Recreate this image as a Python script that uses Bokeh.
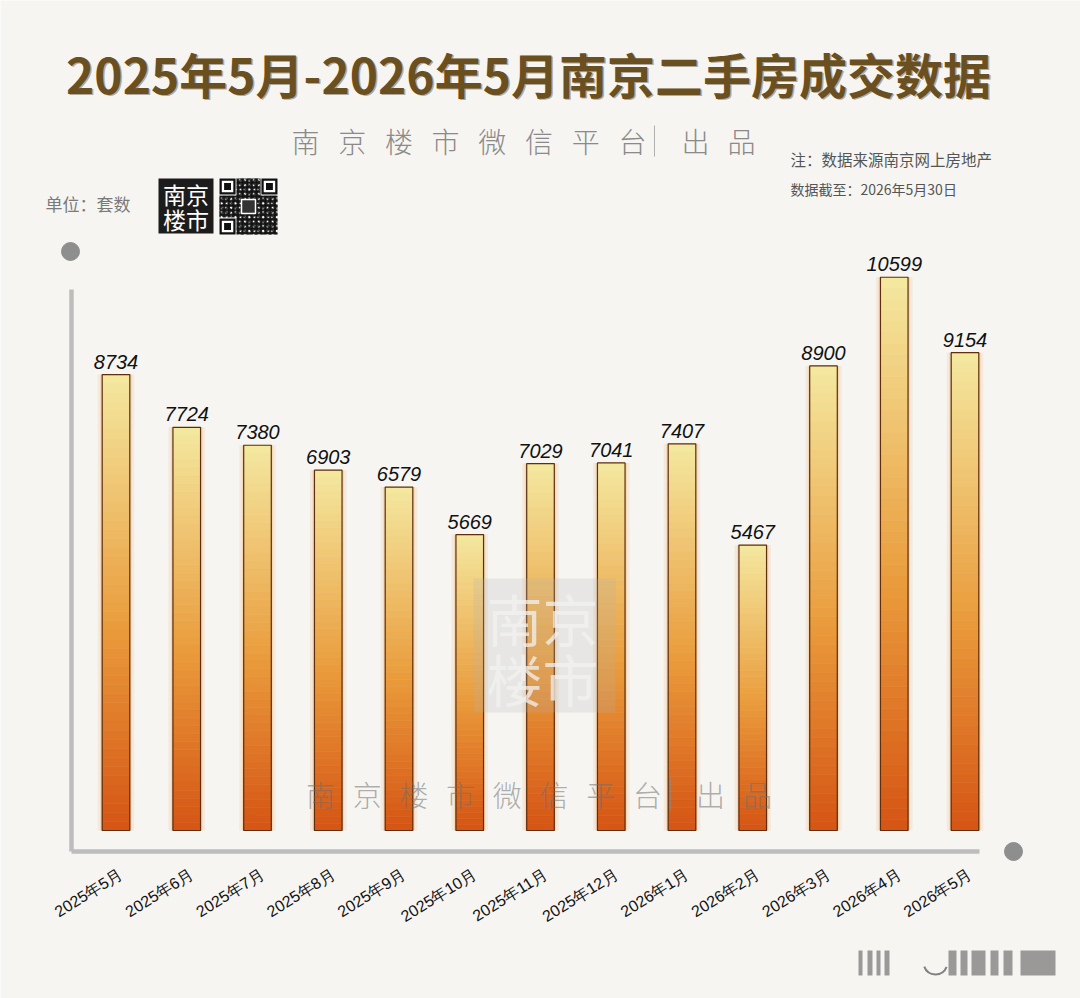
from bokeh.plotting import figure
from bokeh.models import Range1d, FactorRange, Label
from bokeh.core.properties import value
from bokeh.embed import file_html
from bokeh.resources import INLINE

# ---- data ---------------------------------------------------------------
months = ["2025年5月", "2025年6月", "2025年7月", "2025年8月", "2025年9月",
          "2025年10月", "2025年11月", "2025年12月", "2026年1月", "2026年2月",
          "2026年3月", "2026年4月", "2026年5月"]
deals = [8734, 7724, 7380, 6903, 6579, 5669, 7029, 7041, 7407, 5467, 8900, 10599, 9154]

title_text = "2025年5月-2026年5月南京二手房成交数据"
publisher = ["南", "京", "楼", "市", "微", "信", "平", "台"]
publisher_tail = ["出", "品"]
unit_text = "单位：套数"
source_note = "注：数据来源南京网上房地产"
cutoff_note = "数据截至：2026年5月30日"
logo_rows = ["南京", "楼市"]

# ---- canvas geometry ----------------------------------------------------
W, H = 1080, 998
BASE = 830          # canvas row where the bars start
K = 0.0522          # pixels per deal
STEP = 70.75        # pixels per month
PAD = (W / STEP - len(months)) / 2
BAR_W = 0.39

CJK = "Noto Sans CJK SC"
LIGHT = "'Noto Sans CJK SC Light', 'Noto Sans CJK SC'"


def X(px):
    """canvas column -> synthetic x coordinate"""
    return px / STEP - PAD


def Y(py):
    """canvas row -> y data value"""
    return (BASE - py) / K


p = figure(width=W, height=H,
           x_range=FactorRange(*months, range_padding=PAD, range_padding_units="absolute"),
           y_range=Range1d((BASE - H) / K, BASE / K),
           output_backend="svg", toolbar_location=None, min_border=0,
           x_axis_location=None, y_axis_location=None)
p.outline_line_color = None
p.background_fill_color = "#F6F5F2"
p.border_fill_color = "#F6F5F2"
p.grid.grid_line_color = None

# ---- header -------------------------------------------------------------
for dx, dy, col, alpha in [(1.5, 1.5, "#2B200C", 0.35), (0, 0, "#6A4F20", 1.0)]:
    p.add_layout(Label(x=528 + dx, y=H - 72 - dy, x_units="screen", y_units="screen",
                       text=title_text, text_align="center", text_baseline="middle",
                       text_font=CJK, text_font_style="bold", text_font_size="48px",
                       text_color=col, text_alpha=alpha))

sub_x = [X(305 + i * 46.7) for i in range(len(publisher))] + [X(695), X(741)]
p.text(x=sub_x, y=[Y(140)] * len(sub_x), text=publisher + publisher_tail,
       text_align="center", text_baseline="middle", text_font=value(LIGHT),
       text_font_size="28px", text_color="#8A8A8A")
p.segment(x0=[X(654)], y0=[Y(125)], x1=[X(654)], y1=[Y(156)], line_color="#B0B0B0", line_width=1)

p.add_layout(Label(x=790, y=H - 158, x_units="screen", y_units="screen", text=source_note,
                   text_baseline="middle", text_font=CJK, text_font_size="15.5px",
                   text_color="#555555"))
p.add_layout(Label(x=790, y=H - 188, x_units="screen", y_units="screen", text=cutoff_note,
                   text_baseline="middle", text_font=CJK, text_font_size="14px",
                   text_color="#555555"))
p.add_layout(Label(x=45, y=H - 203, x_units="screen", y_units="screen", text=unit_text,
                   text_baseline="middle", text_font=CJK, text_font_size="17px",
                   text_color="#7A7A7A"))

# logo tile
p.quad(left=[X(158)], right=[X(213)], bottom=[Y(233)], top=[Y(178)],
       fill_color="#1C1C1C", line_color=None)
p.text(x=[X(185.5), X(185.5)], y=[Y(193), Y(218)], text=logo_rows, text_align="center",
       text_baseline="middle", text_font=value(CJK), text_font_size="23px", text_color="white")

# QR code tile
p.quad(left=[X(219)], right=[X(277)], bottom=[Y(234)], top=[Y(178)],
       fill_color="white", line_color=None, hatch_pattern="+", hatch_color="#111111",
       hatch_scale=4.6, hatch_weight=2.3)
p.quad(left=[X(219)], right=[X(277)], bottom=[Y(234)], top=[Y(178)],
       fill_alpha=0, line_color=None, hatch_pattern="x", hatch_color="#111111",
       hatch_scale=7, hatch_weight=1.6, hatch_alpha=0.8)
m = 2.3
for fx, fy in [(219, 178), (277 - 7 * m, 178), (219, 234 - 7 * m)]:
    p.quad(left=[X(fx - 0.8)], right=[X(fx + 7 * m + 0.8)], bottom=[Y(fy + 7 * m + 0.8)],
           top=[Y(fy - 0.8)], fill_color="white", line_color=None)
    p.quad(left=[X(fx)], right=[X(fx + 7 * m)], bottom=[Y(fy + 7 * m)], top=[Y(fy)],
           fill_color="#111111", line_color=None)
    p.quad(left=[X(fx + m)], right=[X(fx + 6 * m)], bottom=[Y(fy + 6 * m)], top=[Y(fy + m)],
           fill_color="white", line_color=None)
    p.quad(left=[X(fx + 2 * m)], right=[X(fx + 5 * m)], bottom=[Y(fy + 5 * m)],
           top=[Y(fy + 2 * m)], fill_color="#111111", line_color=None)
p.quad(left=[X(241)], right=[X(255)], bottom=[Y(213)], top=[Y(199)],
       fill_color="#333333", line_color="white", line_width=1.5)

# ---- axes lines and end dots ---------------------------------------------
p.segment(x0=[X(71), X(71)], y0=[Y(851), Y(851)], x1=[X(979), X(71)], y1=[Y(851), Y(289)],
          line_color="#BDBDBD", line_width=4.5)
p.scatter(x=[X(70), X(1013)], y=[Y(251), Y(851)], size=18, color="#8E8E8E")

# ---- bars: soft glow, vertical gradient, outline --------------------------
p.vbar(x=months, top=deals, width=BAR_W + 9 / STEP, fill_color="#EFA653", fill_alpha=0.14,
       line_color=None)
p.vbar(x=months, top=deals, width=BAR_W + 4 / STEP, fill_color="#E99A48", fill_alpha=0.22,
       line_color=None)

stops = [(0.0, (213, 84, 20)), (0.45, (234, 156, 60)), (1.0, (244, 232, 160))]


def blend(t):
    for (t0, c0), (t1, c1) in zip(stops[:-1], stops[1:]):
        if t <= t1:
            f = (t - t0) / (t1 - t0)
            return "#%02x%02x%02x" % tuple(round(a + (b - a) * f) for a, b in zip(c0, c1))
    return "#%02x%02x%02x" % stops[-1][1]


N = 50
gx, gb, gt, gc = [], [], [], []
for mth, v in zip(months, deals):
    for j in range(N):
        gx.append(mth)
        gb.append(v * j / N)
        gt.append(v * (j + 1) / N)
        gc.append(blend((j + 0.5) / N))
p.vbar(x=gx, bottom=gb, top=gt, width=BAR_W, fill_color=gc, line_color=gc, line_width=0.6)
p.vbar(x=months, top=deals, width=BAR_W, fill_alpha=0, line_color="#5E2E0E", line_width=1.2)

# value labels above each bar
p.text(x=months, y=deals, text=[str(v) for v in deals], text_align="center",
       text_baseline="bottom", y_offset=-6, text_font=value("Liberation Sans"),
       text_font_style="italic", text_font_size="20px", text_color="#111111")

# month labels under the axis
p.text(x=months, y=[0] * len(months), text=months, angle=0.56, text_align="right",
       text_baseline="middle", x_offset=5, y_offset=42, text_font=value("Liberation Sans"),
       text_font_size="16px", text_color="#111111")

# ---- watermarks ---------------------------------------------------------
p.quad(left=[X(473)], right=[X(615)], bottom=[Y(712)], top=[Y(578)],
       fill_color="#B0B0B0", fill_alpha=0.22, line_color=None)
p.text(x=[X(542), X(542)], y=[Y(617), Y(677)], text=logo_rows, text_align="center",
       text_baseline="middle", text_font=value(CJK), text_font_size="56px",
       text_color="#F2F2F2", text_alpha=0.75)

wm_x = [X(320 + i * 46.7) for i in range(len(publisher))] + [X(710), X(757)]
p.text(x=wm_x, y=[Y(793)] * len(wm_x), text=publisher + publisher_tail,
       text_align="center", text_baseline="middle", text_font=value(LIGHT),
       text_font_size="29px", text_color="#6E6E6E", text_alpha=0.55)
p.segment(x0=[X(670)], y0=[Y(778)], x1=[X(670)], y1=[Y(810)], line_color="#8A8A8A",
          line_width=1, line_alpha=0.6)

# blurred signature mark at the bottom right
sig_l = [858, 867, 876, 884, 948, 960, 971, 990, 1003, 1020]
sig_r = [862, 872, 880, 889, 956, 967, 985, 998, 1012, 1055]
p.quad(left=[X(a) for a in sig_l], right=[X(b) for b in sig_r],
       bottom=[Y(975)] * len(sig_l), top=[Y(950)] * len(sig_l),
       fill_color="#2A2A2A", fill_alpha=0.45, line_color=None)
p.arc(x=[X(935)], y=[Y(962)], radius=12, start_angle=3.5, end_angle=5.9,
      radius_units="screen", line_color="#333333", line_width=2, line_alpha=0.6)

open("out.html", "w").write(file_html(p, INLINE))
